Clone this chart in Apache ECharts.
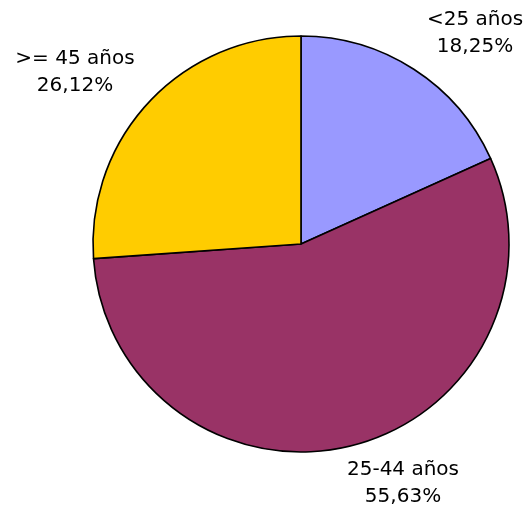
<!DOCTYPE html>
<html>
<head>
<meta charset="utf-8">
<script src="https://cdn.jsdelivr.net/npm/echarts@6/dist/echarts.min.js"></script>
<style>
  html, body { margin: 0; padding: 0; background: #fff; }
  #chart { width: 532px; height: 509px; }
</style>
</head>
<body>
<div id="chart"></div>
<script>
// slices, clockwise from 12 o'clock
var categories = ['<25 años', '25-44 años', '>= 45 años']
var shares = [18.25, 55.63, 26.12]
var colors = ['#9999FF', '#993366', '#FFCC00']
// where each label block sits (centre, px)
var labelPos = [[475, 33], [403, 483], [75, 72]]

var chart = echarts.init(document.getElementById('chart'))
chart.setOption({
    animation: false,
    series: [
        {
            type: 'pie',
            center: [301, 244],
            radius: 208,
            startAngle: 90,
            clockwise: true,
            data: categories.map(function (name, i) {
                return { name: name, value: shares[i], itemStyle: { color: colors[i] } }
            }),
            itemStyle: {
                borderColor: '#000',
                borderWidth: 1.6
            },
            label: {
                show: true,
                position: 'outside',
                formatter: function (p) {
                    return p.name + '\n' + p.value.toFixed(2).replace('.', ',') + '%'
                },
                fontFamily: 'DejaVu Sans',
                fontSize: 20,
                lineHeight: 27,
                color: '#000',
                align: 'center',
                overflow: 'none',
                width: 200
            },
            labelLine: { show: false },
            labelLayout: function (params) {
                var p = labelPos[params.dataIndex]
                return { x: p[0], y: p[1], align: 'center', verticalAlign: 'middle' }
            },
            emphasis: { disabled: true }
        }
    ]
})
</script>
</body>
</html>
